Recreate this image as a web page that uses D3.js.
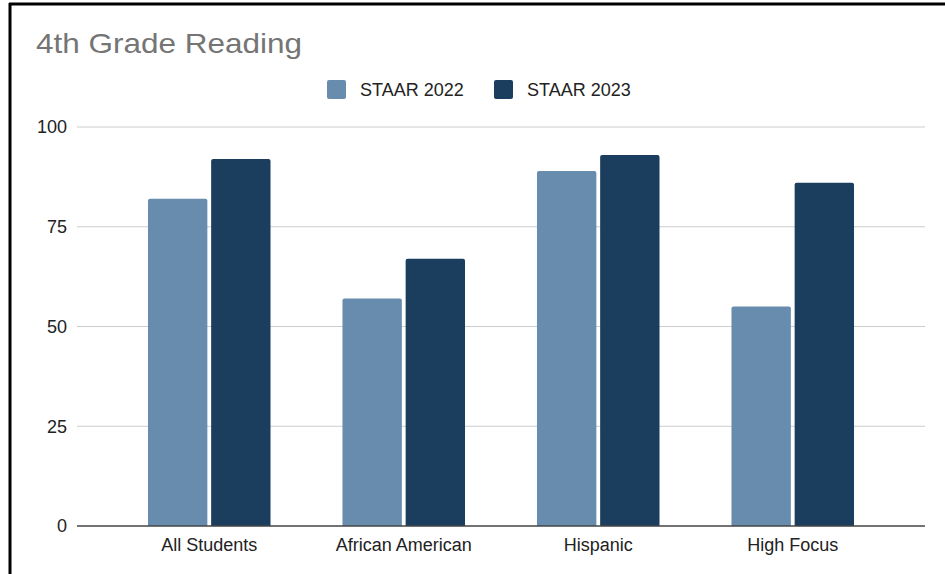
<!DOCTYPE html>
<html>
<head>
<meta charset="utf-8">
<script src="https://cdn.jsdelivr.net/npm/d3@7"></script>
<style>
  html, body { margin: 0; padding: 0; background: #fff; }
  svg { display: block; font-family: "Liberation Sans", Arial, sans-serif; }
</style>
</head>
<body>
<svg id="chart" width="945" height="574"></svg>
<script>
// Data
const categories = ["All Students", "African American", "Hispanic", "High Focus"];
const seriesNames = ["STAAR 2022", "STAAR 2023"];
const staar2022 = [82, 57, 89, 55];
const staar2023 = [92, 67, 93, 86];
const yTicks = [0, 25, 50, 75, 100];
const colors = ["#678cae", "#1b3e5f"];

const svg = d3.select("#chart");
const W = 945, H = 574;

// Frame
svg.append("rect").attr("x", 0).attr("y", 0).attr("width", W).attr("height", H).attr("fill", "#fff");
svg.append("line").attr("x1", 9).attr("x2", W).attr("y1", 4).attr("y2", 4)
  .attr("stroke", "#000").attr("stroke-width", 3);
svg.append("line").attr("x1", 10).attr("x2", 10).attr("y1", 3).attr("y2", H)
  .attr("stroke", "#000").attr("stroke-width", 3);

// Title
svg.append("text").attr("x", 36).attr("y", 53)
  .attr("font-size", 28).attr("fill", "#757575")
  .attr("textLength", 266).attr("lengthAdjust", "spacingAndGlyphs")
  .text("4th Grade Reading");

// Scales
const plotLeft = 77, plotRight = 925;
const y = d3.scaleLinear().domain([0, 100]).range([526, 127]);
const x0 = d3.scaleBand().domain(categories).range([112, 890]).paddingInner(0.37).paddingOuter(0.185);
const x1 = d3.scaleBand().domain(seriesNames).range([0, x0.bandwidth()]).paddingInner(0.06);

// Gridlines
svg.append("g").selectAll("line").data(yTicks.filter(d => d !== 0)).join("line")
  .attr("x1", plotLeft).attr("x2", plotRight)
  .attr("y1", d => y(d)).attr("y2", d => y(d))
  .attr("stroke", "#cccccc").attr("stroke-width", 1);

// Y axis labels
const yAxis = d3.axisLeft(y).tickValues(yTicks).tickSize(0).tickPadding(0);
const yg = svg.append("g").attr("transform", `translate(67,0)`).call(yAxis);
yg.select(".domain").remove();
yg.selectAll("text").attr("font-size", 18).attr("fill", "#222")
  .attr("font-family", "Liberation Sans, Arial, sans-serif");

// Bars
const groups = svg.append("g").selectAll("g").data(categories).join("g")
  .attr("transform", d => `translate(${x0(d)},0)`);
groups.selectAll("path")
  .data((c, i) => [
    { s: seriesNames[0], v: staar2022[i], k: 0 },
    { s: seriesNames[1], v: staar2023[i], k: 1 }
  ])
  .join("path")
  .attr("fill", d => colors[d.k])
  .attr("d", d => {
    const bx = x1(d.s), bw = x1.bandwidth(), top = y(d.v), bot = y(0), r = 2;
    return `M${bx},${bot}V${top + r}Q${bx},${top} ${bx + r},${top}H${bx + bw - r}Q${bx + bw},${top} ${bx + bw},${top + r}V${bot}Z`;
  });

// Baseline
svg.append("line").attr("x1", plotLeft).attr("x2", plotRight)
  .attr("y1", y(0)).attr("y2", y(0)).attr("stroke", "#444").attr("stroke-width", 1.5);

// X axis labels
const xAxis = d3.axisBottom(x0).tickSize(0).tickPadding(0);
const xg = svg.append("g").attr("transform", `translate(0,${y(0) + 12})`).call(xAxis);
xg.select(".domain").remove();
xg.selectAll("text").attr("font-size", 18).attr("fill", "#222")
  .attr("font-family", "Liberation Sans, Arial, sans-serif");

// Legend
const legendX = [327, 494];
const legend = svg.append("g").selectAll("g").data(seriesNames).join("g")
  .attr("transform", (d, i) => `translate(${legendX[i]},80)`);
legend.append("rect").attr("width", 19).attr("height", 19).attr("rx", 2)
  .attr("fill", (d, i) => colors[i]);
legend.append("text").attr("x", 33).attr("y", 15.5)
  .attr("font-size", 18).attr("fill", "#222").text(d => d);
</script>
</body>
</html>
